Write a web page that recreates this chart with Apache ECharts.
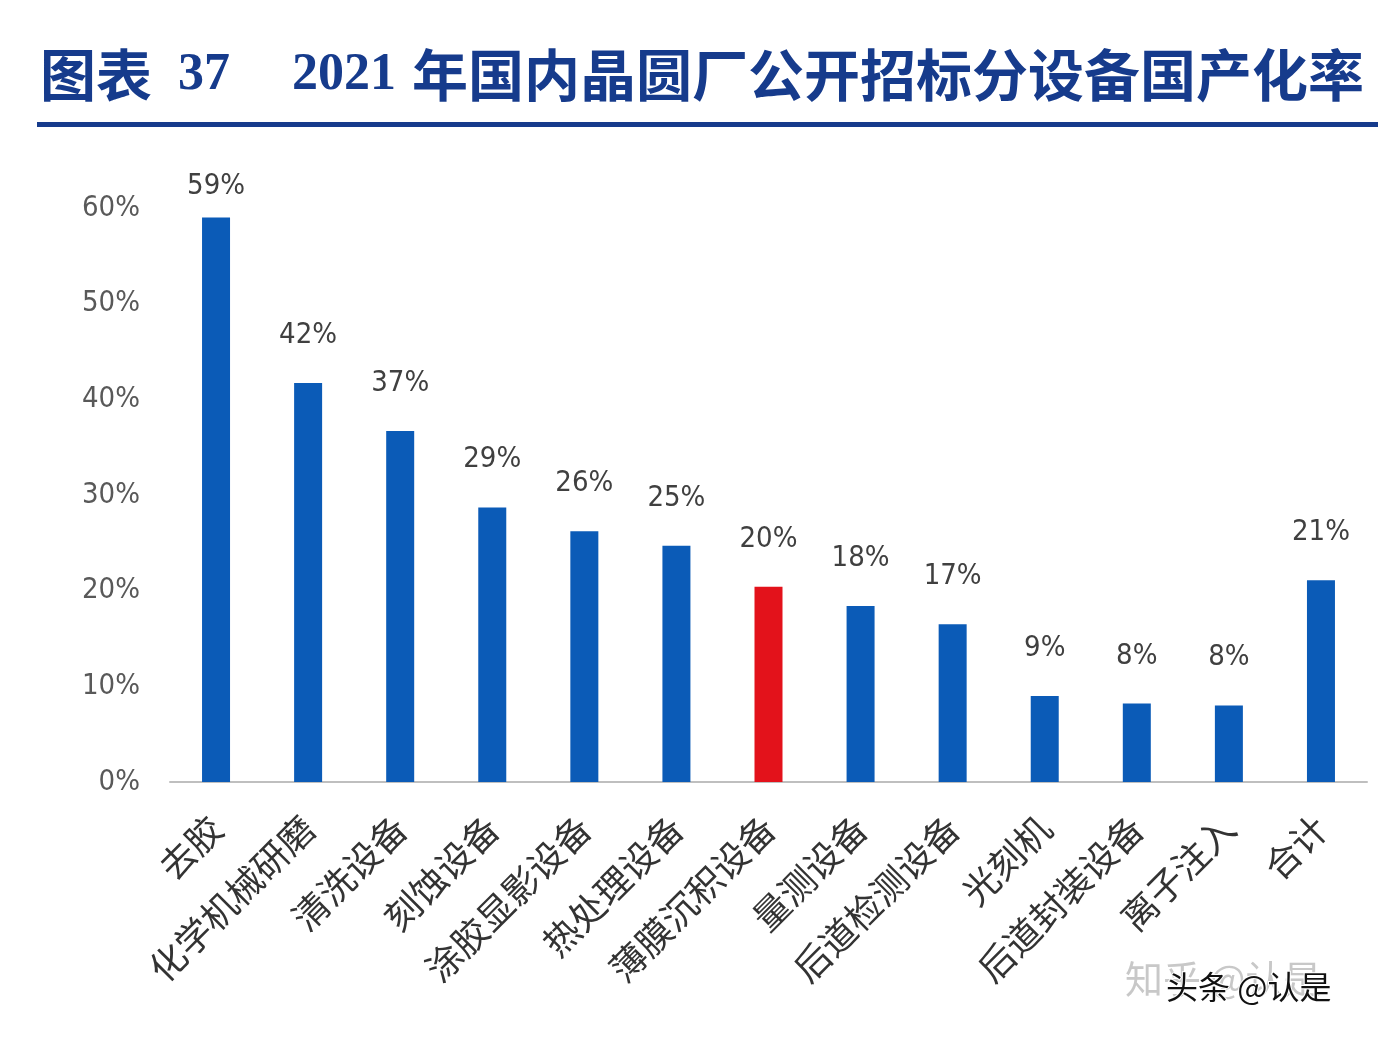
<!DOCTYPE html>
<html><head><meta charset="utf-8">
<script src="https://cdn.jsdelivr.net/npm/echarts@6/dist/echarts.min.js"></script>
<style>html,body{margin:0;padding:0;background:#fff;}#c{width:1378px;height:1040px;}</style>
</head><body><div id="c"></div>
<script>
const categories = ['去胶','化学机械研磨','清洗设备','刻蚀设备','涂胶显影设备','热处理设备','薄膜沉积设备','量测设备','后道检测设备','光刻机','后道封装设备','离子注入','合计'];
const values = [59.0, 41.7, 36.7, 28.7, 26.2, 24.7, 20.4, 18.4, 16.5, 9.0, 8.2, 8.0, 21.1];
const valueLabels = ['59%','42%','37%','29%','26%','25%','20%','18%','17%','9%','8%','8%','21%'];
const yTicks = [0, 10, 20, 30, 40, 50, 60];
const highlightIndex = 6;

const chart = echarts.init(document.getElementById('c'));
const cjk = '"Noto Sans CJK SC", "Noto Sans", sans-serif';
const narrow = '"Liberation Sans Narrow", "DejaVu Sans Condensed", sans-serif';
const titleColor = '#163b8c';
chart.setOption({
  animation: false,
  backgroundColor: '#fff',
  grid: {left: 170, right: 11, top: 208, bottom: 258, containLabel: false},
  xAxis: {
    type: 'category', data: categories,
    axisLine: {lineStyle: {color: '#bfbfbf', width: 2}},
    axisTick: {show: false},
    axisLabel: {rotate: 45, interval: 0, fontSize: 36, color: '#333', fontFamily: cjk, margin: 40}
  },
  yAxis: {
    type: 'value', min: yTicks[0], max: yTicks[yTicks.length-1], interval: 10,
    axisLine: {show: false}, axisTick: {show: false}, splitLine: {show: false},
    axisLabel: {fontSize: 29, color: '#595959', fontFamily: narrow, margin: 30,
      formatter: v => v + '%'}
  },
  series: [{
    type: 'bar', barWidth: 28,
    data: values.map((v, i) => ({
      value: v,
      itemStyle: {color: i === highlightIndex ? '#e3121b' : '#0b5bb7'},
      label: i === 0 ? {distance: 17} : undefined
    })),
    label: {show: true, position: 'top', distance: 33, fontSize: 29, color: '#404040',
      fontFamily: narrow,
      formatter: p => valueLabels[p.dataIndex]}
  }],
  graphic: [
    {type: 'text', left: 40, top: 47, style: {text: '图表', font: 'bold 56px ' + cjk, fill: titleColor}},
    {type: 'text', left: 178, top: 50, style: {text: '37', font: 'bold 52px "Liberation Serif", "DejaVu Serif", serif', fill: titleColor}},
    {type: 'text', left: 292, top: 50, style: {text: '2021', font: 'bold 52px "Liberation Serif", "DejaVu Serif", serif', fill: titleColor}},
    {type: 'text', left: 412, top: 47, style: {text: '年国内晶圆厂公开招标分设备国产化率', font: 'bold 56px ' + cjk, fill: titleColor}},
    {type: 'rect', shape: {x: 37, y: 122, width: 1341, height: 5}, style: {fill: titleColor}},
    {type: 'text', left: 1125, top: 960, style: {text: '知乎 @认是', font: '38px ' + cjk, fill: '#c8c8c8'}},
    {type: 'text', left: 1165, top: 970, style: {text: '头条 @认是', font: '32px ' + cjk, fill: '#111', stroke: '#fff', lineWidth: 2}}
  ]
});
</script></body></html>
